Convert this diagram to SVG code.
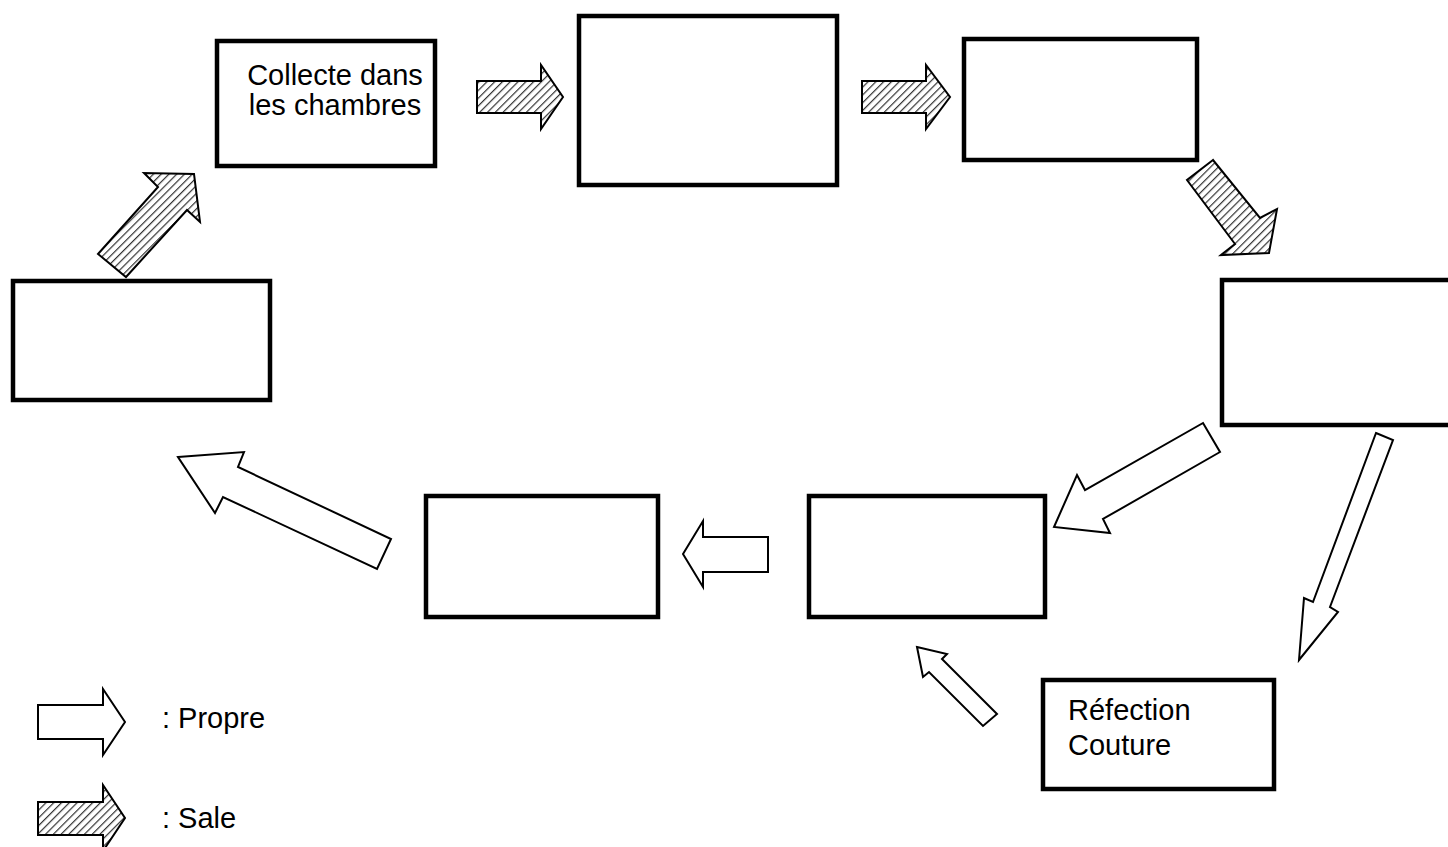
<svg xmlns="http://www.w3.org/2000/svg" width="1448" height="847" viewBox="0 0 1448 847">
<defs>
<pattern id="hatch" patternUnits="userSpaceOnUse" width="5.5" height="5.5" patternTransform="rotate(45)">
<rect width="5.5" height="5.5" fill="#ffffff"/>
<line x1="0" y1="0" x2="0" y2="5.5" stroke="#333" stroke-width="2.4"/>
</pattern>
<style>
.box{fill:#fff;stroke:#000;stroke-width:4.5}
.clean{fill:#fff;stroke:#000;stroke-width:2;stroke-linejoin:miter}
.dirty{fill:url(#hatch);stroke:#000;stroke-width:2;stroke-linejoin:miter}
.t{font-family:"Liberation Sans",Arial,sans-serif;font-size:29px;fill:#000}
</style>
</defs>
<rect width="1448" height="847" fill="#fff"/>
<g id="connectors">
<polygon class="dirty" points="477,81 541,81 541,65 563,97 541,129 541,113 477,113"/>
<polygon class="dirty" points="862,81 926,81 926,65 950,97 926,129 926,113 862,113"/>
<polygon class="dirty" points="98,254 158,187 144,173 194,174 200,222 187,210 126,277"/>
<polygon class="dirty" points="1213,160 1187,180 1235,244 1221,255 1269,253 1277,209 1260,218"/>
<polygon class="clean" points="1203,423 1220,452 1103,519 1110,533 1054,527 1077,475 1085,490"/>
<polygon class="clean" points="1376,433 1393,440 1330,607 1338,612 1299,660 1304,598 1313,602"/>
<polygon class="clean" points="917,647 947,654 942,659 997,714 983,726 929,672 923,677"/>
<polygon class="clean" points="683,554 703,521 703,537 768,537 768,572 703,572 703,587"/>
<polygon class="clean" points="178,457 244,452 238,467 391,539 377,569 223,497 215,513"/>
</g>
<g id="n1"><rect class="box" x="217" y="41" width="218" height="125"/>
<text class="t" x="335" y="85" text-anchor="middle">Collecte dans</text>
<text class="t" x="335" y="115" text-anchor="middle">les chambres</text></g>
<g id="n2"><rect class="box" x="579" y="16" width="258" height="169"/></g>
<g id="n3"><rect class="box" x="964" y="39" width="233" height="121"/></g>
<g id="n4"><rect class="box" x="1222" y="280" width="240" height="145"/></g>
<g id="n5"><rect class="box" x="809" y="496" width="236" height="121"/></g>
<g id="n6"><rect class="box" x="426" y="496" width="232" height="121"/></g>
<g id="n7"><rect class="box" x="13" y="281" width="257" height="119"/></g>
<g id="n8"><rect class="box" x="1043" y="680" width="231" height="109"/>
<text class="t" x="1068" y="720">Réfection</text>
<text class="t" x="1068" y="755">Couture</text></g>
<g id="legend">
<polygon class="clean" points="38,705 103,705 103,689 125,722 103,755 103,739 38,739"/>
<text class="t" x="162" y="728">: Propre</text>
<polygon class="dirty" points="38,802 103,802 103,785 125,818 103,851 103,835 38,835"/>
<text class="t" x="162" y="828">: Sale</text>
</g>
</svg>
